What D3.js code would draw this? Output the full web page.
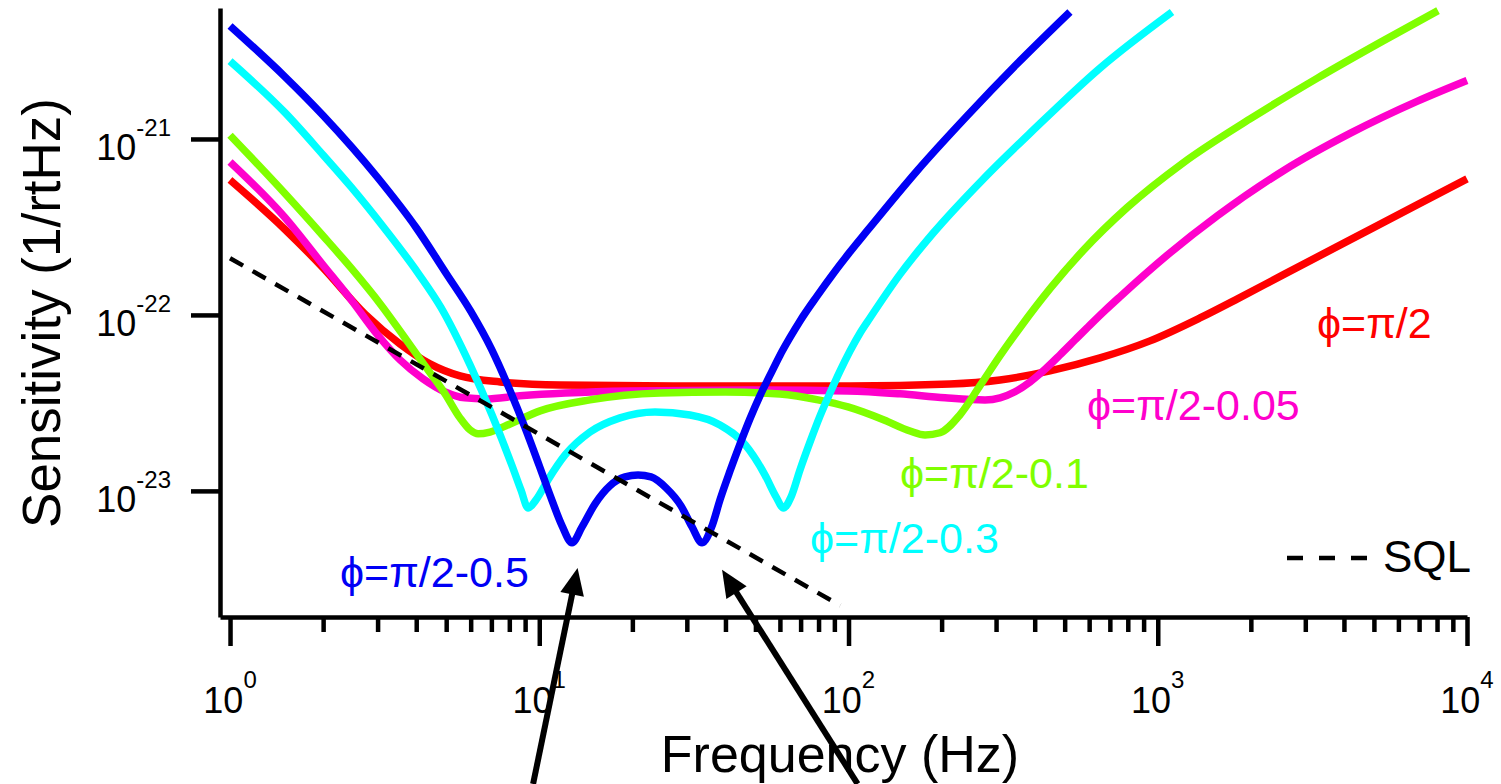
<!DOCTYPE html>
<html><head><meta charset="utf-8">
<script src="https://cdn.jsdelivr.net/npm/d3@7"></script>
<style>
body{margin:0;background:#fff}
svg{display:block}
text{font-family:"Liberation Sans",Arial,Helvetica,sans-serif}
</style>
</head><body>
<svg id="chart" width="1501" height="784"></svg>
<script>
// ---- data (Hz, 1/rtHz) ----
const blueFreq = [1,1.5,2,3,4,5,6,7,8,9,10,11,11.85,12.76,13.75,15.15,16.93,18.94,20.86,22.98,25.7,28.73,31.19,33.6,36.2,38.4,41.4,44.6,48.0,51.7,55.8,60.0,64.7,69.7,79.1,89.1,101.1,114.8,166.5,241.6,350.6,520];
const blueSens = [4.39e-21,2.27e-21,1.36e-21,6.04e-22,3.13e-22,1.72e-22,1.05e-22,6.41e-23,3.8e-23,2.28e-23,1.39e-23,8.8e-24,6.33e-24,5.07e-24,6.24e-24,8.44e-24,1.07e-23,1.2e-23,1.23e-23,1.2e-23,1.04e-23,8.22e-24,6.24e-24,5.07e-24,6.33e-24,8.89e-24,1.3e-23,1.85e-23,2.57e-23,3.47e-23,4.56e-23,5.89e-23,7.45e-23,9.25e-23,1.28e-22,1.71e-22,2.28e-22,3.0e-22,6.58e-22,1.35e-21,2.67e-21,5.27e-21];

const cyanFreq = [1,1.506,2,2.462,3.17,4.055,4.812,5.972,7.035,8.165,8.73,9.2,9.76,10.67,12.12,14.59,18.24,23.67,30.72,38.4,46.3,53.7,58.3,61.6,65.2,69.7,75.1,80.9,87.1,93.9,101.1,109,117.3,146.7,187.6,272.2,395,650.6,1112];
const cyanSens = [2.77e-21,1.41e-21,8.11e-22,5.34e-22,3.08e-22,1.73e-22,1.1e-22,5.2e-23,2.7e-23,1.39e-23,1.01e-23,8.0e-24,8.89e-24,1.155e-23,1.6e-23,2.16e-23,2.6e-23,2.81e-23,2.7e-23,2.37e-23,1.83e-23,1.23e-23,9.25e-24,8.0e-24,9.25e-24,1.32e-23,1.9e-23,2.67e-23,3.6e-23,4.81e-23,6.24e-23,7.9e-23,9.61e-23,1.7e-22,2.91e-22,5.9e-22,1.12e-21,2.53e-21,5.27e-21];

const greenFreq = [1,1.5,2,2.462,3.078,3.68,4.27,4.96,5.54,5.972,6.34,6.93,8.04,10.06,14.59,24.57,39.9,60,79.7,99.6,130.3,158.1,176.8,197.7,229.4,266.2,309,358.5,448.3,573.3,795.6,1207,1988,3273,5352,8058];
const greenSens = [1.05e-21,4.93e-22,2.81e-22,1.85e-22,1.14e-22,7.4e-23,5.13e-23,3.56e-23,2.6e-23,2.22e-23,2.11e-23,2.16e-23,2.4e-23,2.85e-23,3.29e-23,3.6e-23,3.65e-23,3.55e-23,3.29e-23,3.0e-23,2.53e-23,2.19e-23,2.08e-23,2.14e-23,2.71e-23,3.96e-23,5.87e-23,8.46e-23,1.41e-22,2.32e-22,4.07e-22,7.31e-22,1.30e-21,2.21e-21,3.61e-21,5.36e-21];

const magentaFreq = [1,1.5,2,2.462,3,3.545,4.21,4.96,5.75,6.68,8.66,12.12,19.66,48,99.6,146.7,205.2,276.3,309,345.4,386.3,432,483,540,603.9,675.2,755,1071,1555,2541,4184,6892,10000];
const magentaSens = [7.4e-22,3.6e-22,1.92e-22,1.22e-22,7.7e-23,5.55e-23,4.33e-23,3.65e-23,3.38e-23,3.33e-23,3.47e-23,3.6e-23,3.7e-23,3.75e-23,3.7e-23,3.56e-23,3.38e-23,3.29e-23,3.38e-23,3.66e-23,4.16e-23,4.91e-23,5.93e-23,7.21e-23,8.77e-23,1.06e-22,1.27e-22,2.18e-22,3.65e-22,6.58e-22,1.075e-21,1.635e-21,2.15e-21];

const redFreq = [1,1.5,2,2.733,3.545,4.43,5.54,7.47,11.67,33.1,101.1,212.9,309,448.3,650.6,944,1369,1804,2541,4184,6892,10000];
const redSens = [5.85e-22,3.08e-22,1.85e-22,1.01e-22,6.84e-23,5.27e-23,4.5e-23,4.16e-23,4.0e-23,3.95e-23,3.95e-23,4.05e-23,4.27e-23,4.81e-23,5.7e-23,7.12e-23,9.61e-23,1.23e-22,1.69e-22,2.67e-22,4.22e-22,5.93e-22];

const sqlFreq = [1,94];
const sqlSens = [2.1e-22,2.23e-24];

const xMajorTicks = [1,10,100,1000,10000];
const xMajorExp = ["0","1","2","3","4"];
const yMajorTicks = [1e-21,1e-22,1e-23];
const yMajorExp = ["-21","-22","-23"];

const seriesLabels = ["\u03D5=\u03C0/2-0.5","\u03D5=\u03C0/2-0.3","\u03D5=\u03C0/2-0.1","\u03D5=\u03C0/2-0.05","\u03D5=\u03C0/2"];
const xTitle = "Frequency (Hz)";
const yTitle = "Sensitivity (1/rtHz)";
const sqlLabel = "SQL";
// arrows pointing at the two minima (data coords: tip, tail)
const arrowTips  = [[13.3,3.65e-24],[39,3.56e-24]];
const arrowTails = [[9.55,2.16e-25],[107,2.16e-25]];

// ---- drawing ----
const svg = d3.select("#chart");
const x = d3.scaleLog().domain([0.928,1e4]).range([220,1467]);
const y = d3.scaleLog().domain([1.92e-24,5.55e-21]).range([617,8]);

const series = [
  {f:blueFreq, s:blueSens, color:"#0000f5"},
  {f:cyanFreq, s:cyanSens, color:"#00ffff"},
  {f:greenFreq, s:greenSens, color:"#80ff00"},
  {f:magentaFreq, s:magentaSens, color:"#ff00cc"},
  {f:redFreq, s:redSens, color:"#ff0000"}
];

const line = d3.line().x(d=>x(d[0])).y(d=>y(d[1])).curve(d3.curveMonotoneX);

[4,3,2,1,0].forEach(i=>{
  const sr = series[i];
  svg.append("path")
    .datum(sr.f.map((f,k)=>[f,sr.s[k]]))
    .attr("d", line)
    .attr("fill","none")
    .attr("stroke", sr.color)
    .attr("stroke-width", 7.5)
    .attr("stroke-linejoin","round");
});

// SQL
svg.append("path")
  .datum(sqlFreq.map((f,k)=>[f,sqlSens[k]]))
  .attr("d", d3.line().x(d=>x(d[0])).y(d=>y(d[1])))
  .attr("fill","none").attr("stroke","#000").attr("stroke-width",4.5)
  .attr("stroke-dasharray","15,11");

// axes
const minorTicks = [];
for (let d=1; d<10000; d*=10) for (let m=2; m<=9; m++) minorTicks.push(d*m);

const gx = svg.append("g").attr("transform","translate(0,617)");
gx.call(d3.axisBottom(x).tickValues(xMajorTicks).tickSize(29).tickSizeOuter(0).tickFormat(""));
gx.append("g").call(d3.axisBottom(x).tickValues(minorTicks).tickSize(15).tickSizeOuter(0).tickFormat(""))
  .select(".domain").remove();
gx.selectAll("line").attr("stroke","#000").attr("stroke-width",4.5);
gx.selectAll(".domain").attr("stroke","#000").attr("stroke-width",4.5);

const gy = svg.append("g").attr("transform","translate(220,0)");
gy.call(d3.axisLeft(y).tickValues(yMajorTicks).tickSize(29).tickSizeOuter(0).tickFormat(""));
gy.selectAll("line").attr("stroke","#000").attr("stroke-width",4.5);
gy.selectAll(".domain").attr("stroke","#000").attr("stroke-width",4.5);

// x tick labels
xMajorTicks.forEach((v,i)=>{
  const t = svg.append("text").attr("x", x(v)).attr("y", 713).attr("text-anchor","middle")
    .attr("font-size",36).attr("fill","#000");
  t.append("tspan").text("10");
  t.append("tspan").attr("dy",-25).attr("font-size",24).text(xMajorExp[i]);
});
// y tick labels
yMajorTicks.forEach((v,i)=>{
  const t = svg.append("text").attr("x", 171).attr("y", y(v)+21).attr("text-anchor","end")
    .attr("font-size",36).attr("fill","#000");
  t.append("tspan").text("10");
  t.append("tspan").attr("dy",-24).attr("font-size",24).text(yMajorExp[i]);
});

// titles
svg.append("text").attr("x",840).attr("y",772).attr("text-anchor","middle")
  .attr("font-size",52).attr("fill","#000").text(xTitle);
svg.append("text").attr("transform","translate(60,313) rotate(-90)").attr("text-anchor","middle")
  .attr("font-size",53).attr("fill","#000").text(yTitle);

// series labels
const labelPos = [[340,587],[810,553],[900,488],[1087,420],[1317,338]];
seriesLabels.forEach((lab,i)=>{
  svg.append("text").attr("x",labelPos[i][0]).attr("y",labelPos[i][1])
    .attr("font-size",43).attr("fill",series[i].color).text(lab);
});

// SQL legend
svg.append("line").attr("x1",1287).attr("x2",1370).attr("y1",558).attr("y2",558)
  .attr("stroke","#000").attr("stroke-width",4.5).attr("stroke-dasharray","16,16");
svg.append("text").attr("x",1383).attr("y",572).attr("font-size",44).attr("fill","#000").text(sqlLabel);

// arrows
arrowTips.forEach((tip,i)=>{
  const tx = x(tip[0]), ty = y(tip[1]);
  const bx = x(arrowTails[i][0]), by = y(arrowTails[i][1]);
  const dx = tx-bx, dy = ty-by, L = Math.hypot(dx,dy);
  const ux = dx/L, uy = dy/L, px = -uy, py = ux;
  const hl = 27, hw = 12;
  const hx = tx-ux*hl, hy = ty-uy*hl;
  svg.append("line").attr("x1",bx).attr("y1",by).attr("x2",hx+ux*2).attr("y2",hy+uy*2)
    .attr("stroke","#000").attr("stroke-width",6);
  svg.append("path").attr("d",`M${tx},${ty}L${hx+px*hw},${hy+py*hw}L${hx-px*hw},${hy-py*hw}Z`)
    .attr("fill","#000");
});
</script>
</body></html>
